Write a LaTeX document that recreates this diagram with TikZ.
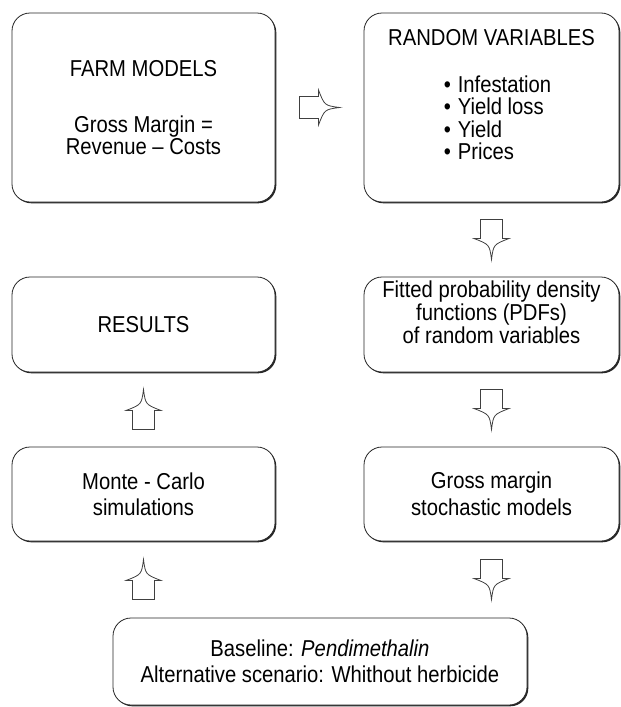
\documentclass[tikz,border=0pt]{standalone}
\usepackage{fontspec}
\setmainfont{Liberation Sans}[FakeStretch=0.88]
\usetikzlibrary{calc,shadows}
\tikzset{stagebox/.style={draw=black!85,line width=.8pt,rounded corners=18pt,fill=white,align=center,inner sep=0pt,font=\fontsize{23}{21}\selectfont,general shadow={fill=black!85,shadow xshift=1.3pt,shadow yshift=-1.3pt}},flowarrow/.pic={\draw[black!75,line width=.8pt,fill=white] (-11,-20)--(-11,-1)--(-17.5,-1) .. controls (-2,5) .. (0,20) .. controls (2,5) .. (17.5,-1)--(11,-1)--(11,-20)--cycle;}}

\begin{document}
\begin{tikzpicture}[x=1pt,y=-1pt]
\useasboundingbox (0,0) rectangle (621,707);
\node[stagebox,minimum width=263pt,minimum height=189pt] (farm) at (143.5,107.5) {FARM MODELS\\[35.5pt]Gross Margin =\\[.5pt]Revenue -- Costs};
\node[stagebox,minimum width=255pt,minimum height=189pt] (randvar) at (491.5,107.5) {RANDOM VARIABLES\\[26pt]\hspace*{12pt}\begin{tabular}[t]{@{}l@{}}\textbullet\hspace{7pt}Infestation\\[-.5pt]\textbullet\hspace{7pt}Yield loss\\[-.5pt]\textbullet\hspace{7pt}Yield\\[-.5pt]\textbullet\hspace{7pt}Prices\\[20pt]\end{tabular}};
\node[stagebox,minimum width=263pt,minimum height=95pt] (results) at (143.5,324.5) {RESULTS};
\node[stagebox,minimum width=255pt,minimum height=95pt] (pdfs) at (491.5,324.5) {Fitted probability density\\[.5pt]functions (PDFs)\\[.5pt]of random variables\rule[-24pt]{0pt}{1pt}};
\node[stagebox,minimum width=263pt,minimum height=94pt] (monte) at (143.5,494) {Monte - Carlo\\[5pt]simulations};
\node[stagebox,minimum width=255pt,minimum height=94pt] (gross) at (491.5,494) {Gross margin\\[5pt]stochastic models};
\node[stagebox,minimum width=414pt,minimum height=87pt] (scenario) at (320,661.5) {Baseline: \textit{Pendimethalin}\\[5pt]Alternative scenario: Whithout herbicide};
% block arrows between the stages
\pic[rotate=90] at ($(farm.east)!.5!(randvar.west)$) {flowarrow};
\pic at ($(randvar.south)!.5!(pdfs.north)$) {flowarrow};
\pic at ($(pdfs.south)!.5!(gross.north)$) {flowarrow};
\pic at ($(gross.south)!.5!(gross.south |- scenario.north)$) {flowarrow};
\pic[rotate=180] at ($(monte.south)!.5!(monte.south |- scenario.north)$) {flowarrow};
\pic[rotate=180] at ($(results.south)!.5!(monte.north)$) {flowarrow};
\end{tikzpicture}
\end{document}
